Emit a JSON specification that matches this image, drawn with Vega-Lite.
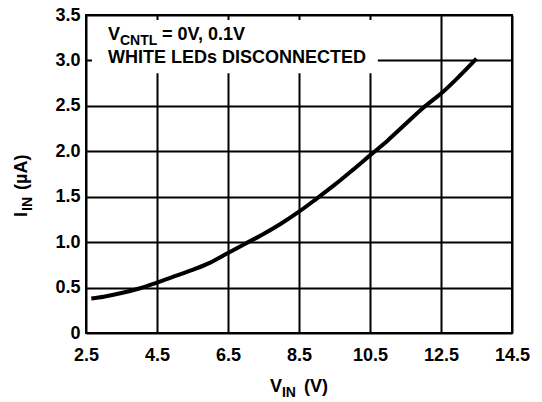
{
  "$schema": "https://vega.github.io/schema/vega-lite/v6.json",
  "width": 426,
  "height": 318,
  "autosize": "none",
  "padding": {"left": 86, "top": 15, "right": 30, "bottom": 69},
  "background": "white",
  "config": {
    "view": {"stroke": "black", "strokeWidth": 2},
    "font": "Liberation Sans",
    "axis": {
      "labelFont": "Liberation Sans",
      "labelFontWeight": "bold",
      "labelFontSize": 18,
      "labelColor": "black",
      "grid": true,
      "gridColor": "black",
      "gridWidth": 2,
      "gridOpacity": 1,
      "domain": false,
      "ticks": false,
      "labelFlush": false,
      "labelOverlap": false,
      "title": null
    },
    "text": {"font": "Liberation Sans", "fontWeight": "bold", "color": "black"}
  },
  "datasets": {
    "curve": [
      {"vin": 2.65, "iin": 0.38},
      {"vin": 3.0, "iin": 0.4},
      {"vin": 3.5, "iin": 0.44},
      {"vin": 4.0, "iin": 0.49},
      {"vin": 4.5, "iin": 0.555},
      {"vin": 5.0, "iin": 0.625},
      {"vin": 5.5, "iin": 0.695},
      {"vin": 6.0, "iin": 0.775},
      {"vin": 6.5, "iin": 0.88},
      {"vin": 7.0, "iin": 0.985},
      {"vin": 7.5, "iin": 1.09},
      {"vin": 8.0, "iin": 1.205},
      {"vin": 8.5, "iin": 1.335},
      {"vin": 9.0, "iin": 1.48},
      {"vin": 9.5, "iin": 1.63},
      {"vin": 10.0, "iin": 1.79},
      {"vin": 10.5, "iin": 1.955},
      {"vin": 11.0, "iin": 2.12},
      {"vin": 11.5, "iin": 2.30},
      {"vin": 12.0, "iin": 2.48},
      {"vin": 12.5, "iin": 2.635},
      {"vin": 13.0, "iin": 2.82},
      {"vin": 13.5, "iin": 3.02}
    ]
  },
  "layer": [
    {
      "data": {"values": [{}]},
      "mark": {"type": "rect", "fill": "white", "stroke": null},
      "encoding": {
        "x": {"datum": 2.67, "type": "quantitative", "scale": {"domain": [2.5, 14.5], "nice": false, "zero": false},
          "axis": {"values": [2.5, 4.5, 6.5, 8.5, 10.5, 12.5, 14.5], "format": ".1f", "labelPadding": 13}},
        "x2": {"datum": 10.72},
        "y": {"datum": 3.445, "type": "quantitative", "scale": {"domain": [0, 3.5], "nice": false, "zero": false},
          "axis": {"values": [0, 0.5, 1, 1.5, 2, 2.5, 3, 3.5], "labelPadding": 6,
            "labelExpr": "datum.value == 0 ? '0' : format(datum.value, '.1f')"}},
        "y2": {"datum": 2.86}
      }
    },
    {
      "data": {"name": "curve"},
      "mark": {"type": "line", "color": "black", "strokeWidth": 4, "interpolate": "monotone"},
      "encoding": {
        "x": {"field": "vin", "type": "quantitative"},
        "y": {"field": "iin", "type": "quantitative"}
      }
    },
    {
      "data": {"values": [{}]},
      "mark": {"type": "text", "align": "left", "baseline": "alphabetic", "fontSize": 18, "text": "V"},
      "encoding": {"x": {"datum": 3.12, "type": "quantitative"}, "y": {"datum": 3.225, "type": "quantitative"}}
    },
    {
      "data": {"values": [{}]},
      "mark": {"type": "text", "align": "left", "baseline": "alphabetic", "fontSize": 14, "text": "CNTL", "dx": 12, "dy": 5},
      "encoding": {"x": {"datum": 3.12, "type": "quantitative"}, "y": {"datum": 3.225, "type": "quantitative"}}
    },
    {
      "data": {"values": [{}]},
      "mark": {"type": "text", "align": "left", "baseline": "alphabetic", "fontSize": 18, "text": "= 0V, 0.1V", "dx": 54},
      "encoding": {"x": {"datum": 3.12, "type": "quantitative"}, "y": {"datum": 3.225, "type": "quantitative"}}
    },
    {
      "data": {"values": [{}]},
      "mark": {"type": "text", "align": "left", "baseline": "alphabetic", "fontSize": 18, "text": "WHITE LEDs DISCONNECTED"},
      "encoding": {"x": {"datum": 3.12, "type": "quantitative"}, "y": {"datum": 2.968, "type": "quantitative"}}
    },
    {
      "data": {"values": [{}]},
      "mark": {"type": "text", "align": "left", "baseline": "alphabetic", "fontSize": 18, "text": "V"},
      "encoding": {"x": {"datum": 7.68, "type": "quantitative"}, "y": {"datum": -0.649, "type": "quantitative"}}
    },
    {
      "data": {"values": [{}]},
      "mark": {"type": "text", "align": "left", "baseline": "alphabetic", "fontSize": 14, "text": "IN", "dx": 12, "dy": 5},
      "encoding": {"x": {"datum": 7.68, "type": "quantitative"}, "y": {"datum": -0.649, "type": "quantitative"}}
    },
    {
      "data": {"values": [{}]},
      "mark": {"type": "text", "align": "left", "baseline": "alphabetic", "fontSize": 18, "text": "(V)", "dx": 34},
      "encoding": {"x": {"datum": 7.68, "type": "quantitative"}, "y": {"datum": -0.649, "type": "quantitative"}}
    },
    {
      "data": {"values": [{}]},
      "mark": {"type": "text", "align": "left", "baseline": "alphabetic", "fontSize": 18, "angle": 270, "text": "I"},
      "encoding": {"x": {"datum": 0.824, "type": "quantitative"}, "y": {"datum": 1.277, "type": "quantitative"}}
    },
    {
      "data": {"values": [{}]},
      "mark": {"type": "text", "align": "left", "baseline": "alphabetic", "fontSize": 14, "angle": 270, "text": "IN", "dx": 6, "dy": 5},
      "encoding": {"x": {"datum": 0.824, "type": "quantitative"}, "y": {"datum": 1.277, "type": "quantitative"}}
    },
    {
      "data": {"values": [{}]},
      "mark": {"type": "text", "align": "left", "baseline": "alphabetic", "fontSize": 18, "angle": 270, "text": "(µA)", "dx": 27},
      "encoding": {"x": {"datum": 0.824, "type": "quantitative"}, "y": {"datum": 1.277, "type": "quantitative"}}
    }
  ]
}
